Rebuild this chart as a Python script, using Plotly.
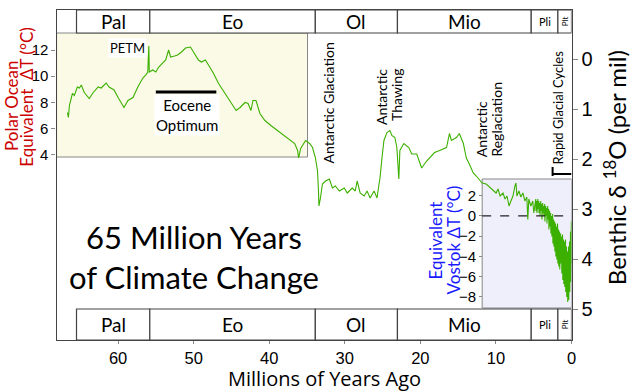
import plotly.graph_objects as go

W, H = 640, 391

# ---------------- data ----------------
# age in millions of years ago, benthic d18O in per mil
AGE = [66.70, 66.57, 66.44, 66.04, 65.78, 65.39, 65.12, 64.86, 64.47, 64.07,
       63.81, 63.29, 62.63, 62.24, 61.58, 61.19, 60.53, 60.00, 59.35, 59.22,
       58.69, 58.03, 57.38, 56.72, 56.33, 56.07, 55.93, 55.87, 55.41, 55.01,
       54.62, 54.10, 53.70, 53.31, 53.05, 52.52, 52.13, 51.60, 51.08, 50.42,
       50.03, 49.37, 48.97, 48.45, 47.79, 47.40, 46.74, 45.82, 45.04, 44.38,
       43.85, 43.20, 42.80, 42.41, 42.15, 41.75, 41.23, 40.57, 39.78, 38.86,
       37.95, 37.16, 36.63, 36.24, 36.11, 35.84, 35.19, 34.66, 34.27, 33.88,
       33.61, 33.48, 33.42, 33.22, 32.96, 32.56, 32.04, 31.64, 31.25, 30.72,
       30.07, 29.67, 29.02, 28.62, 28.36, 27.97, 27.44, 27.05, 26.65, 26.13,
       25.73, 25.47, 25.34, 25.08, 24.82, 24.42, 24.03, 23.77, 23.37, 23.11,
       22.85, 22.71, 22.19, 21.53, 21.14, 20.48, 19.83, 19.17, 18.78, 18.12,
       17.46, 16.54, 16.15, 15.89, 15.23, 14.84, 14.31, 13.92, 13.52, 13.00,
       12.60, 11.82, 11.29, 10.64, 9.98, 9.72, 9.45, 9.06, 8.80, 8.53,
       8.27, 8.01, 7.75, 7.48, 7.35, 7.22, 6.96, 6.70, 6.43, 6.17,
       5.91, 5.78, 5.65, 5.38, 5.12, 4.99, 4.86,
       4.73, 4.70, 4.60, 4.57, 4.46, 4.43, 4.33, 4.30, 4.20, 4.17,
       4.07, 4.04, 3.94, 3.91, 3.81, 3.78, 3.68, 3.65, 3.55, 3.52,
       3.41, 3.38, 3.28, 3.25, 3.15, 3.12, 3.02, 2.99, 2.89, 2.86,
       2.76, 2.73, 2.63, 2.60, 2.49, 2.46, 2.36, 2.33, 2.23, 2.20,
       2.10, 2.07, 1.97, 1.94, 1.84, 1.81, 1.71, 1.68, 1.58, 1.55,
       1.44, 1.41, 1.31, 1.28, 1.18, 1.15, 1.05, 1.02, 0.92, 0.89,
       0.79, 0.76, 0.66, 0.63, 0.53, 0.50, 0.39, 0.36, 0.26, 0.23,
       0.13, 0.10, 0.02, 0.00]
D18O = [1.07, 1.17, 0.93, 0.69, 0.73, 0.56, 0.58, 0.52, 0.67, 0.75,
        0.79, 0.67, 0.56, 0.58, 0.48, 0.56, 0.62, 0.77, 0.93, 0.97,
        0.83, 0.77, 0.56, 0.38, 0.32, 0.26, -0.26, 0.26, 0.22, 0.26,
        0.16, 0.08, 0.02, -0.18, -0.04, -0.06, -0.08, -0.14, -0.22, -0.24,
        -0.14, 0.02, 0.06, 0.02, 0.18, 0.28, 0.48, 0.69, 0.89, 1.03,
        0.97, 0.87, 0.89, 1.03, 0.83, 0.83, 1.09, 1.23, 1.33, 1.43,
        1.53, 1.63, 1.69, 1.83, 1.98, 1.79, 1.63, 1.69, 1.77, 1.98,
        2.24, 2.64, 2.94, 2.78, 2.50, 2.44, 2.40, 2.58, 2.54, 2.64,
        2.58, 2.68, 2.58, 2.64, 2.44, 2.68, 2.74, 2.64, 2.78, 2.64,
        2.78, 2.50, 2.38, 1.98, 1.63, 1.47, 1.43, 1.53, 1.57, 1.77,
        2.40, 1.83, 1.69, 1.77, 1.90, 1.90, 2.18, 2.04, 1.98, 1.87,
        1.83, 1.77, 1.49, 1.63, 1.57, 1.49, 1.69, 1.98, 2.10, 2.28,
        2.34, 2.48, 2.50, 2.60, 2.68, 2.60, 2.74, 2.68, 2.80, 2.74,
        2.94, 2.84, 2.74, 2.54, 2.48, 2.74, 2.64, 2.76, 2.68, 2.84,
        2.76, 3.21, 2.80, 2.94, 2.84, 3.08, 2.88,
        2.80, 3.04, 2.84, 3.08, 2.80, 3.00, 2.84, 3.08, 2.88, 3.14,
        2.84, 3.04, 2.90, 3.21, 2.88, 3.08, 2.94, 3.14, 2.90, 3.25,
        2.94, 3.14, 2.98, 3.29, 2.94, 3.21, 3.00, 3.41, 3.04, 3.35,
        3.08, 3.49, 3.14, 3.55, 3.10, 3.69, 3.21, 3.75, 3.25, 3.85,
        3.29, 3.95, 3.35, 4.01, 3.29, 4.09, 3.41, 4.15, 3.45, 4.21,
        3.49, 4.09, 3.55, 4.29, 3.51, 4.42, 3.61, 4.50, 3.65, 4.56,
        3.61, 4.66, 3.75, 4.76, 3.85, 4.86, 3.75, 4.82, 3.65, 4.66,
        3.45, 4.46, 3.25, 4.09]

EPOCH_NAMES = ["Pal", "Eo", "Ol", "Mio", "Pli", "Plt"]
EPOCH_BOUNDS = [65.5, 55.8, 33.9, 23.03, 5.33, 1.8, 0.0]

X_TICKS = [60, 50, 40, 30, 20, 10, 0]
D18O_TICKS = [0, 1, 2, 3, 4, 5]
POLAR_TICKS = [4, 6, 8, 10, 12]
VOSTOK_TICKS = [2, 0, -2, -4, -6, -8]

EOCENE_OPT_SPAN = [55.0, 47.0]
EOCENE_OPT_LEVEL = 0.66
RAPID_SPAN = [2.5, 0.0]
RAPID_LEVEL = 2.30

# ---------------- layout helpers ----------------
def px(x):
    return x / W

def py(y):
    return 1 - y / H

X_RANGE = [68.14, 0]
Y_RANGE = [5.62, -0.98]
POLAR_RANGE = [-10.22, 15.07]
VOSTOK_RANGE = [-9.11, 3.66]
YELLOW_X1 = 34.93
VOSTOK_X0 = 11.82

GREEN = "#3cb000"
FRAME = "#444444"
TITLE_FONT = "Lato, Open Sans, sans-serif"
WIDE_FONT = "Open Sans, Lato, sans-serif"
TICK_FONT = "Liberation Sans, Arial, sans-serif"
CLEAR = "rgba(0,0,0,0)"

fig = go.Figure()
fig.add_trace(go.Scatter(x=[None], y=[None], xaxis="x", yaxis="y3",
                         showlegend=False, hoverinfo="skip"))
fig.add_trace(go.Scatter(x=[None], y=[None], xaxis="x", yaxis="y2",
                         showlegend=False, hoverinfo="skip"))
fig.add_trace(go.Scatter(x=AGE, y=D18O, mode="lines",
                         line=dict(color=GREEN, width=1.1),
                         xaxis="x", yaxis="y", hoverinfo="skip", showlegend=False))

shapes = []
# background boxes
shapes.append(dict(type="rect", xref="x", yref="paper", x0=X_RANGE[0], x1=YELLOW_X1,
                   y0=py(157), y1=py(33), fillcolor="#fafae6",
                   line=dict(color="#888", width=1), layer="below"))
shapes.append(dict(type="rect", xref="x", yref="paper", x0=VOSTOK_X0, x1=0,
                   y0=py(308), y1=py(179), fillcolor="#efeffb",
                   line=dict(color="#888", width=1), layer="below"))
shapes.append(dict(type="line", xref="x", yref="y3", x0=VOSTOK_X0, x1=0, y0=0, y1=0,
                   line=dict(color="#222", width=1.2, dash="dash")))
# epoch bands
annotations = []
for i, name in enumerate(EPOCH_NAMES):
    a, b = EPOCH_BOUNDS[i], EPOCH_BOUNDS[i + 1]
    for (yt, yb) in [(10, 33), (309, 340)]:
        shapes.append(dict(type="rect", xref="x", yref="paper", x0=a, x1=b,
                           y0=py(yb), y1=py(yt), fillcolor="white",
                           line=dict(color=FRAME, width=1.2)))
        if name == "Plt":
            fnt, ang = 8, -90
        elif name == "Pli":
            fnt, ang = 11, 0
        else:
            fnt, ang = 19, 0
        annotations.append(dict(x=(a + b) / 2, y=py((yt + yb) / 2), xref="x", yref="paper",
                                text=name, showarrow=False, textangle=ang,
                                font=dict(family=TITLE_FONT, size=fnt, color="black"),
                                xanchor="center", yanchor="middle"))
# eocene optimum bar
shapes.append(dict(type="line", xref="x", yref="y", x0=EOCENE_OPT_SPAN[0], x1=EOCENE_OPT_SPAN[1],
                   y0=EOCENE_OPT_LEVEL, y1=EOCENE_OPT_LEVEL, line=dict(color="black", width=3)))
# rapid glacial cycles bracket
shapes.append(dict(type="line", xref="x", yref="y", x0=RAPID_SPAN[0], x1=RAPID_SPAN[1],
                   y0=RAPID_LEVEL, y1=RAPID_LEVEL, line=dict(color="black", width=2)))
shapes.append(dict(type="line", xref="x", yref="y", x0=RAPID_SPAN[0], x1=RAPID_SPAN[0],
                   y0=RAPID_LEVEL - 0.14, y1=RAPID_LEVEL + 0.04, line=dict(color="black", width=2)))

def ann(x, y, text, size, color="black", angle=0, xa="center", ya="middle", align="center",
        bg=None, family=TITLE_FONT):
    d = dict(x=px(x), y=py(y), xref="paper", yref="paper", text=text, showarrow=False,
             textangle=angle, xanchor=xa, yanchor=ya, align=align,
             font=dict(family=family, size=size, color=color))
    if bg:
        d["bgcolor"] = bg
    annotations.append(d)

ann(128, 48, "PETM", 13, bg="white")
ann(188, 115, "Eocene<br>Optimum", 15, bg="white")
ann(332, 103, "Antarctic Glaciation", 14, angle=-90)
ann(385, 67, "Antarctic", 14, angle=-90, ya="top")
ann(400, 67, "Thawing", 14, angle=-90, ya="top")
ann(485, 159, "Antarctic", 14, angle=-90, ya="bottom")
ann(500, 159, "Reglaciation", 14, angle=-90, ya="bottom")
ann(562, 108, "Rapid Glacial Cycles", 13, angle=-90)
ann(196, 257, "65 Million Years<br>of Climate Change", 31)
ann(11, 106, "Polar Ocean", 17, color="#cc0000", angle=-90)
ann(27, 97, "Equivalent  ΔT (°C)", 17, color="#cc0000", angle=-90)
ann(439, 241, "Equivalent", 17, color="#1a1aff", angle=-90)
ann(457, 240, "Vostok ΔT (°C)", 17, color="#1a1aff", angle=-90)
ann(620, 168, "Benthic δ <sup>18</sup>O (per mil)", 24, angle=-90)
ann(327, 378, "Millions of Years Ago", 20, family=WIDE_FONT)

fig.update_layout(
    width=W, height=H,
    margin=dict(l=0, r=0, t=0, b=0),
    paper_bgcolor="white", plot_bgcolor=CLEAR,
    showlegend=False,
    shapes=shapes, annotations=annotations,
    xaxis=dict(domain=[px(57), px(576)], range=X_RANGE, tickvals=X_TICKS,
               ticks="outside", ticklen=3, tickcolor="#888", showgrid=False, zeroline=False,
               showline=True, linecolor=FRAME, linewidth=1.2, mirror=True,
               tickfont=dict(family=TICK_FONT, size=16.5, color="black")),
    yaxis=dict(domain=[py(340), py(10)], range=Y_RANGE, side="right", anchor="x",
               tickvals=D18O_TICKS, ticks="outside", ticklen=5, tickcolor="#888",
               showgrid=False, zeroline=False, showline=True, linecolor=FRAME, linewidth=1.2,
               tickfont=dict(family=TICK_FONT, size=20, color="black")),
    yaxis2=dict(overlaying="y", side="left", anchor="x", range=POLAR_RANGE,
                tickvals=POLAR_TICKS, ticks="outside", ticklen=4, tickcolor="#888",
                showgrid=False, zeroline=False, showline=True, linecolor=FRAME, linewidth=1.2,
                tickfont=dict(family=TICK_FONT, size=15, color="black")),
    yaxis3=dict(domain=[py(308), py(179)], anchor="free", position=px(486), side="left",
                range=VOSTOK_RANGE, tickvals=VOSTOK_TICKS, ticks="outside", ticklen=3,
                tickcolor="#888", showgrid=False, zeroline=False, showline=False,
                tickfont=dict(family=TICK_FONT, size=15, color="black")),
)

fig.write_html("out.html", config={"displayModeBar": False},
               post_script="document.body.style.margin='0px';")
